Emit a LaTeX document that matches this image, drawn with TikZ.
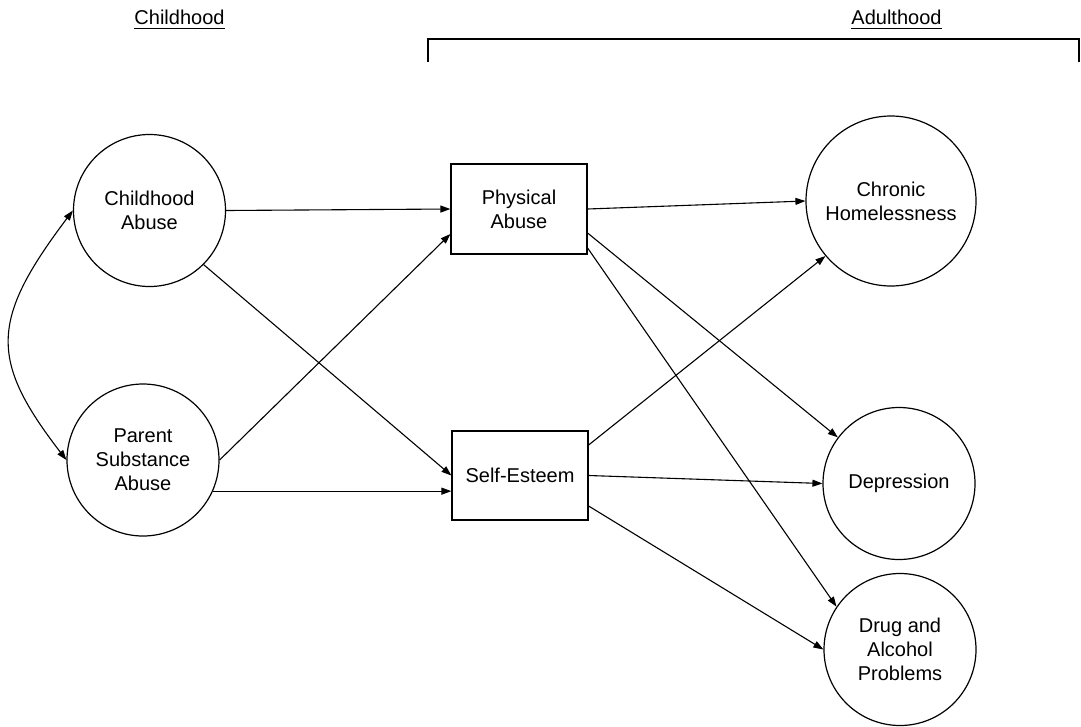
\documentclass[tikz,border=0pt]{standalone}
\usepackage{fontspec}
\setmainfont{Liberation Sans}
\usetikzlibrary{arrows.meta}
\begin{document}
\begin{tikzpicture}[x=1pt,y=-1pt,
  every node/.style={font=\fontsize{20}{24}\selectfont, align=center},
  lat/.style={circle, draw, line width=1.2pt, inner sep=0pt},
  obs/.style={rectangle, draw, line width=1.2pt, inner sep=0pt},
  path/.style={line width=1.1pt, -{Triangle[length=10pt,width=7pt]}},
  bipath/.style={line width=1.1pt, {Triangle[length=10pt,width=7pt]}-{Triangle[length=10pt,width=7pt]}},
  lbl/.style={inner sep=0pt, anchor=base}]
\useasboundingbox (0,0) rectangle (1081,726);

% headings
\node[lbl] (hchild) at (179.5,24) {Childhood};
\node[lbl] (hadult) at (896.5,24) {Adulthood};
\draw[line width=1pt] ([yshift=-4.5pt]hchild.base west) -- ([yshift=-4.5pt]hchild.base east);
\draw[line width=1pt] ([yshift=-4.5pt]hadult.base west) -- ([yshift=-4.5pt]hadult.base east);
\draw[line width=1.2pt] (428,62) -- (428,39) -- (1079,39) -- (1079,62);

% nodes
\node[lat, minimum size=152pt] (ca) at (149.5,210.5) {Childhood\\Abuse};
\node[lat, minimum size=152pt] (ps) at (143,460) {Parent\\Substance\\Abuse};
\node[obs, minimum width=136pt, minimum height=90pt] (pa) at (519,209) {Physical\\Abuse};
\node[obs, minimum width=136pt, minimum height=89pt] (se) at (520,475.5) {Self-Esteem};
\node[lat, minimum size=170pt] (ch) at (891,201) {Chronic\\Homelessness};
\node[lat, minimum size=152pt] (dep) at (899,483.5) {Depression};
\node[lat, minimum size=152pt] (dap) at (900,649.5) {Drug and\\Alcohol\\Problems};

% connectors
\draw[bipath] (ca.west) .. controls +(-83,110) and +(-77,-100) .. (ps.west);
\draw[path] (ca.east) -- (pa.west);
\draw[path] (ca.-45) -- (se.west);
\draw[path] (ps.east) -- ([yshift=-25pt]pa.west);
\draw[path] (ps.-24) -- (ps.-24 -| se.west);
\draw[path] (pa.east) -- (ch.west);
\draw[path] ([yshift=-24pt]pa.east) -- (dep.143);
\draw[path] ([yshift=-39pt]pa.east) -- (dap.146);
\draw[path] ([yshift=30.5pt]se.east) -- (ch.220);
\draw[path] (se.east) -- (dep.west);
\draw[path] ([yshift=-30.5pt]se.east) -- (dap.west);
\end{tikzpicture}
\end{document}
